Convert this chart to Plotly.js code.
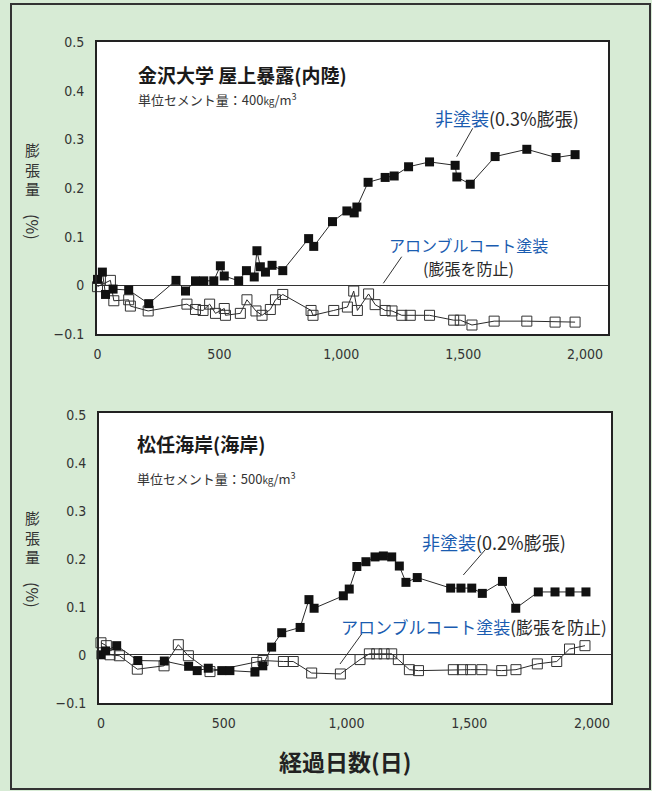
<!DOCTYPE html>
<html>
<head>
<meta charset="utf-8">
<script src="https://cdn.plot.ly/plotly-3.0.1.min.js"></script>
<style>html,body{margin:0;padding:0;background:#d7ebd5;}#chart{width:652px;height:791px;}</style>
</head>
<body>
<div id="chart"></div>
<script>
// ---- data (days elapsed, expansion %) ----
const topUncoatedDays = [0, 20, 33, 64, 128, 210, 322, 361, 402, 436, 477, 504, 520, 579, 611, 643, 654, 668, 689, 716, 760, 866, 887, 964, 1023, 1053, 1064, 1110, 1180, 1217, 1276, 1362, 1467, 1474, 1529, 1631, 1761, 1881, 1959];
const topUncoatedVals = [0.012, 0.027, -0.019, -0.008, -0.010, -0.038, 0.010, -0.012, 0.009, 0.009, 0.009, 0.040, 0.019, 0.009, 0.030, 0.017, 0.071, 0.038, 0.027, 0.041, 0.030, 0.096, 0.080, 0.131, 0.153, 0.149, 0.161, 0.212, 0.222, 0.225, 0.244, 0.254, 0.247, 0.223, 0.208, 0.265, 0.280, 0.263, 0.269];
const topCoatedDays = [0, 53, 67, 128, 135, 208, 367, 402, 433, 460, 484, 520, 525, 586, 613, 650, 675, 709, 730, 760, 876, 884, 969, 1025, 1051, 1066, 1112, 1139, 1180, 1208, 1248, 1283, 1362, 1461, 1488, 1536, 1627, 1761, 1877, 1959];
const topCoatedVals = [-0.003, 0.010, -0.032, -0.030, -0.043, -0.053, -0.039, -0.050, -0.052, -0.039, -0.058, -0.048, -0.062, -0.058, -0.030, -0.053, -0.062, -0.050, -0.030, -0.019, -0.052, -0.062, -0.052, -0.045, -0.012, -0.052, -0.018, -0.040, -0.052, -0.053, -0.062, -0.062, -0.062, -0.072, -0.072, -0.082, -0.074, -0.074, -0.076, -0.076];

const botUncoatedDays = [0, 19, 64, 150, 258, 357, 392, 437, 492, 525, 627, 659, 695, 736, 811, 847, 868, 987, 1011, 1042, 1079, 1116, 1150, 1184, 1215, 1242, 1288, 1424, 1466, 1510, 1553, 1635, 1689, 1781, 1849, 1910, 1975];
const botUncoatedVals = [0.000, 0.008, 0.019, -0.012, -0.013, -0.024, -0.033, -0.028, -0.033, -0.033, -0.036, -0.023, 0.016, 0.046, 0.057, 0.115, 0.097, 0.123, 0.137, 0.184, 0.194, 0.204, 0.206, 0.204, 0.185, 0.151, 0.161, 0.139, 0.139, 0.139, 0.128, 0.153, 0.097, 0.131, 0.131, 0.131, 0.131];
const botCoatedDays = [0, 22, 37, 75, 148, 257, 315, 356, 444, 634, 660, 743, 783, 858, 975, 1055, 1093, 1123, 1153, 1184, 1211, 1256, 1293, 1435, 1472, 1506, 1551, 1632, 1690, 1777, 1856, 1908, 1971];
const botCoatedVals = [0.025, 0.019, 0.000, -0.002, -0.030, -0.023, 0.021, -0.002, -0.035, -0.016, -0.012, -0.014, -0.014, -0.038, -0.040, -0.010, 0.002, 0.002, 0.002, 0.002, -0.010, -0.031, -0.033, -0.031, -0.031, -0.031, -0.031, -0.033, -0.031, -0.019, -0.014, 0.012, 0.019];

const xTickVals = [0, 500, 1000, 1500, 2000];
const xTickText = ['0', '500', '1,000', '1,500', '2,000'];
const yTickVals = [0.5, 0.4, 0.3, 0.2, 0.1, 0, -0.1];
const yTickText = ['0.5', '0.4', '0.3', '0.2', '0.1', '0', '\u22120.1'];

// ---- style ----
const W = 652, H = 791;
const X = px => px / W;
const Y = py => 1 - py / H;
const JP = "'Noto Sans CJK JP', 'Noto Sans', sans-serif";
const NUM = "'DejaVu Sans Condensed', 'Liberation Sans Narrow', 'DejaVu Sans', sans-serif";
const BLUE = '#1a5cb0';
const INK = '#2a2a2a';

function filled(x, y, xa, ya) {
  return {x, y, xaxis: xa, yaxis: ya, type: 'scatter', mode: 'lines+markers', cliponaxis: false,
    line: {color: INK, width: 1},
    marker: {symbol: 'square', size: 9, color: '#111', line: {color: '#111', width: 0}}};
}
function open(x, y, xa, ya) {
  return {x, y, xaxis: xa, yaxis: ya, type: 'scatter', mode: 'lines+markers', cliponaxis: false,
    line: {color: INK, width: 1},
    marker: {symbol: 'square-open', size: 10, color: '#333', line: {color: '#333', width: 1}}};
}

const data = [
  open(topCoatedDays, topCoatedVals, 'x', 'y'),
  filled(topUncoatedDays, topUncoatedVals, 'x', 'y'),
  open(botCoatedDays, botCoatedVals, 'x2', 'y2'),
  filled(botUncoatedDays, botUncoatedVals, 'x2', 'y2')
];

function xaxisCfg(domain, range, anchor) {
  return {domain, range, anchor, tickvals: xTickVals, ticktext: xTickText, ticks: '',
    showgrid: false, zeroline: false, showline: true, mirror: true, linecolor: '#222', linewidth: 2,
    tickfont: {family: NUM, size: 14, color: '#333'}, ticklabelstandoff: 6, fixedrange: true};
}
function yaxisCfg(domain, range, anchor) {
  return {domain, range, anchor, tickvals: yTickVals, ticktext: yTickText, ticks: '',
    showgrid: false, zeroline: true, zerolinecolor: '#333', zerolinewidth: 1.2,
    showline: true, mirror: true, linecolor: '#222', linewidth: 2,
    tickfont: {family: NUM, size: 14, color: '#333'}, ticklabelstandoff: 8, fixedrange: true};
}

function ann(text, px, py, opts) {
  return Object.assign({text, x: X(px), y: Y(py), xref: 'paper', yref: 'paper', showarrow: false,
    xanchor: 'left', yanchor: 'middle', font: {family: JP, size: 15, color: INK}}, opts || {});
}
function leader(x0, y0, x1, y1) {
  return {type: 'line', xref: 'paper', yref: 'paper', x0: X(x0), y0: Y(y0), x1: X(x1), y1: Y(y1),
    line: {color: '#333', width: 1}};
}
function ylabel(py0) {
  return [
    ann('膨<br>張<br>量', 32, py0 + 19, {xanchor: 'center', font: {family: JP, size: 15, color: '#333'}}),
    ann('(%)', 33, py0 + 77, {xanchor: 'center', textangle: 90, font: {family: JP, size: 16, color: '#333'}})
  ];
}

const annotations = [
  ann('<b>金沢大学 屋上暴露(内陸)</b>', 136, 74, {font: {family: JP, size: 19, color: '#1a1a1a'}}),
  ann('単位セメント量：400<span style="font-size:10px">kg</span>/m<sup>3</sup>', 136, 99, {font: {family: JP, size: 13, color: '#333'}}),
  ann('<span style="color:' + BLUE + '">非塗装</span>(0.3%膨張)', 433, 118, {font: {family: JP, size: 18, color: INK}}),
  ann('アロンブルコート塗装', 387, 245, {font: {family: JP, size: 16, color: BLUE}}),
  ann('(膨張を防止)', 421, 268, {font: {family: JP, size: 16, color: INK}}),

  ann('<b>松任海岸(海岸)</b>', 135, 443, {font: {family: JP, size: 19, color: '#1a1a1a'}}),
  ann('単位セメント量：500<span style="font-size:10px">kg</span>/m<sup>3</sup>', 135, 478, {font: {family: JP, size: 13, color: '#333'}}),
  ann('<span style="color:' + BLUE + '">非塗装</span>(0.2%膨張)', 420, 542, {font: {family: JP, size: 18, color: INK}}),
  ann('<span style="color:' + BLUE + '">アロンブルコート塗装</span>(膨張を防止)', 339, 626, {font: {family: JP, size: 17, color: INK}}),

  ann('<b>経過日数(日)</b>', 345, 761, {xanchor: 'center', font: {family: JP, size: 23, color: '#222'}})
].concat(ylabel(150), ylabel(518));

const shapes = [
  {type: 'rect', xref: 'paper', yref: 'paper', x0: X(11), y0: Y(789), x1: X(650), y1: Y(4),
    line: {color: '#333', width: 2}, fillcolor: 'rgba(0,0,0,0)', layer: 'below'},
  leader(472.7, 128.3, 456.7, 156.7),
  leader(401.7, 256.7, 383.3, 283.3),
  leader(485, 550, 463.3, 575),
  leader(361.7, 634, 340, 664)
];

const layout = {
  width: W, height: H, margin: {l: 0, r: 0, t: 0, b: 0},
  paper_bgcolor: '#d7ebd5', plot_bgcolor: '#ffffff', showlegend: false,
  xaxis: xaxisCfg([X(97), X(608)], [-2, 2094], 'y'),
  yaxis: yaxisCfg([Y(334), Y(42)], [-0.1005, 0.501], 'x'),
  xaxis2: xaxisCfg([X(99), X(611)], [-8, 2077], 'y2'),
  yaxis2: yaxisCfg([Y(703), Y(413)], [-0.1005, 0.504], 'x2'),
  annotations, shapes
};

Plotly.newPlot('chart', data, layout, {displayModeBar: false, staticPlot: true});
</script>
</body>
</html>
